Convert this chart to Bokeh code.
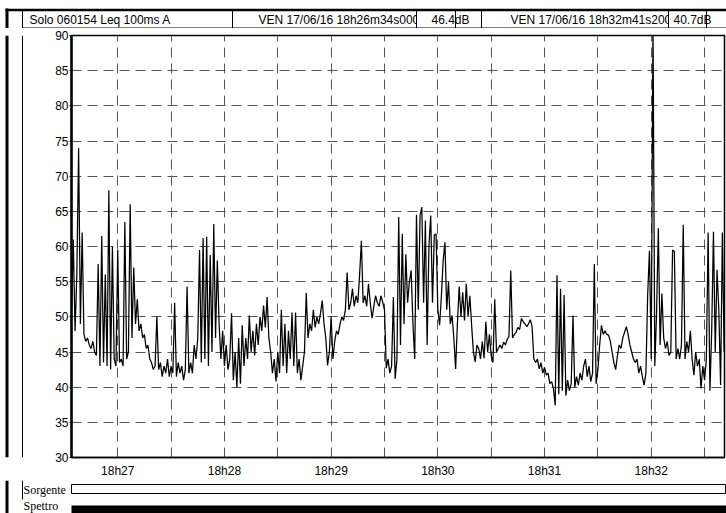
from bokeh.plotting import figure
from bokeh.layouts import column, row
from bokeh.models import Range1d, FixedTicker
from bokeh.core.properties import value
from bokeh.embed import file_html
from bokeh.resources import INLINE

# ---- data: Leq 100ms A, one reading per second from 18h26m34s ----
levels = [
    51, 61, 48, 56, 74, 49, 62, 47.5, 46.5, 47,
    46, 45.5, 46.5, 45, 44.5, 57.5, 43, 61.5, 43.5, 56,
    43, 68, 42.5, 60, 44, 43, 59.5, 43.5, 44, 43,
    63.5, 44, 45, 66, 47, 57, 49, 52.5, 48, 49,
    47, 47.5, 45.5, 46, 44, 43.5, 42.5, 43, 50, 42.5,
    43.5, 41.5, 43, 42, 44, 41.5, 43, 42, 52, 41.5,
    43.5, 42, 43, 41, 42.5, 54.3, 42, 43.5, 42, 46,
    44, 47, 59.5, 43.5, 61.2, 44, 61.4, 43, 58.8, 45,
    63.2, 47, 58, 49, 44, 48, 43, 46, 42.5, 44,
    50.5, 41, 45, 40, 47, 40.5, 48.8, 43, 47, 44,
    50.2, 45, 48, 44.5, 49, 46, 50, 48, 51.6, 48.5,
    52.8, 47, 45, 42, 44, 40.8, 45, 42, 51, 43,
    49, 42, 48, 44, 50.6, 43, 50.6, 42, 44, 41,
    43, 45, 53.4, 47, 49, 48, 51, 48.5, 50, 49,
    50.5, 52.3, 49, 47, 43.1, 45, 50, 44, 46.5, 48,
    47.5, 49, 50, 49.5, 51, 56.3, 51, 52, 54, 51.5,
    53, 52, 55.9, 60.8, 52, 53, 51.5, 54.7, 52, 49.8,
    51.5, 53, 52, 51.5, 53, 52.1, 51, 42.7, 44, 42,
    43, 52.8, 41.2, 44, 64.2, 46, 61.8, 49, 58.9, 52,
    55, 56.6, 49, 44, 64.5, 51, 64.4, 65.6, 52, 63.7,
    46, 60.1, 64.4, 52, 61.6, 61.8, 51, 48.8, 53, 58,
    60.6, 51, 55, 49, 50.2, 47, 42.6, 49, 54.3, 50,
    53.5, 49.5, 54.7, 50, 53, 48.8, 45, 43.6, 46, 45.5,
    44, 46.5, 44.1, 49.3, 45, 47.5, 44.5, 43.5, 52.5, 45,
    45.5, 46, 45.5, 46.4, 46, 46.8, 47.2, 56.6, 47, 47.5,
    47.8, 48.5, 48.2, 49.8, 49.3, 49, 48.6, 49, 49.6, 48.6,
    44, 43.5, 44, 42.6, 43.5, 42, 42.8, 41.7, 42, 40.5,
    40.8, 39.8, 37.4, 55.9, 39, 54, 39.5, 53.1, 38.8, 41,
    39.5, 40.5, 50.2, 40, 41.5, 40.3, 42, 41, 43, 44,
    41.5, 43, 40.8, 42, 57.5, 40.5, 42.5, 46, 48.8, 47.5,
    48, 47.5, 47.4, 46.5, 45, 43.5, 42.5, 44.5, 46, 45.5,
    47, 47.8, 48.6, 47.5, 46, 45, 44, 43.5, 44, 42,
    43, 41.5, 40.3, 42, 53.1, 59.4, 44, 92, 43, 50.5,
    62.6, 46, 53.3, 47, 45.5, 46.5, 44.5, 45, 59.5, 59.3,
    44, 45.5, 44, 46, 63.1, 44, 46.5, 45, 48, 44,
    41.7, 45, 43, 44, 39.8, 43, 41, 44, 62, 39.5,
    48, 62.1, 45, 56.7, 51, 40.3, 62, 45,
]
seconds = list(range(len(levels)))          # sample index = seconds after 18h26m34s
x_end = 367.2                               # 18h32m41s200
x_ticks = [26, 86, 146, 206, 266, 326]
x_tick_labels = ["18h27", "18h28", "18h29", "18h30", "18h31", "18h32"]
x_grid = [26, 56, 86, 116, 146, 176, 206, 236, 266, 296, 326, 356]
y_ticks = [30, 35, 40, 45, 50, 55, 60, 65, 70, 75, 80, 85, 90]
y_grid = [35, 40, 45, 50, 55, 60, 65, 70, 75, 80, 85]
header_texts = ["Solo 060154   Leq 100ms  A", "VEN 17/06/16 18h26m34s000", "46.4dB", "",
                "VEN 17/06/16 18h32m41s200", "40.7dB", ""]
row_labels = ["Sorgente", "Spettro"]

SANS = "Liberation Sans"
SERIF = "Liberation Serif"
W = 726
HH = 28     # header height
MH = 452    # main chart height
BH = 33     # bottom strip height

# ---- header strip (page y 0..28) ----
h = figure(width=W, height=HH, x_range=Range1d(0, W), y_range=Range1d(0, HH),
           x_axis_type=None, y_axis_type=None, min_border=0, output_backend="svg",
           toolbar_location=None)
h.grid.visible = False
h.outline_line_color = None
edges = [22, 232, 416, 455, 481, 668, 706, 727]
text_x = [29, 258, 431, None, 510, 673, None]
filled = [True, True, True, False, True, True, False]
for i in range(7):
    if filled[i]:
        h.quad(left=edges[i], right=edges[i + 1], top=18, bottom=0.5,
               fill_color="white", line_color=None)
    if text_x[i] is not None:
        h.text(x=[text_x[i]], y=[8.5], text=[header_texts[i]], text_font=value(SANS),
               text_font_size="12px", text_baseline="middle", text_align="left",
               text_color="black")
h.quad(left=edges[:-1], right=edges[1:], top=18, bottom=0.5,
       fill_color=None, line_color="black", line_width=1)
h.quad(left=5, right=W, top=19.7, bottom=17.3, fill_color="black", line_color=None)
h.quad(left=5, right=8, top=20, bottom=0, fill_color="black", line_color=None)

# ---- left strip (page x 0..23) ----
s = figure(width=23, height=MH, x_range=Range1d(0, 23), y_range=Range1d(0, MH),
           x_axis_type=None, y_axis_type=None, min_border=0, output_backend="svg",
           toolbar_location=None)
s.grid.visible = False
s.outline_line_color = None
s.quad(left=5, right=8, top=MH, bottom=0, fill_color="black", line_color=None)
s.quad(left=21.5, right=22.5, top=MH, bottom=0, fill_color="black", line_color=None)

# ---- main chart (page x 23..726, y 28..480) ----
p = figure(width=W - 23, height=MH, x_range=Range1d(0, x_end), y_range=Range1d(30, 90),
           min_border_left=48, min_border_right=2, min_border_top=7, min_border_bottom=21,
           output_backend="svg", toolbar_location=None)
p.background_fill_color = "white"
p.border_fill_color = "white"
p.outline_line_color = "black"
p.outline_line_width = 1.5

p.xaxis.ticker = FixedTicker(ticks=x_ticks)
p.xaxis.major_label_overrides = dict(zip(x_ticks, x_tick_labels))
p.xaxis.major_tick_out = 0
p.xaxis.major_tick_in = 0
p.xaxis.minor_tick_out = 0
p.xaxis.minor_tick_in = 0
p.xaxis.major_label_standoff = 6
p.xaxis.axis_line_width = 1.5

p.yaxis.ticker = FixedTicker(ticks=y_ticks)
p.yaxis.major_tick_out = 2
p.yaxis.major_tick_in = 0
p.yaxis.minor_tick_out = 0
p.yaxis.minor_tick_in = 0
p.yaxis.major_label_standoff = 1
p.yaxis.axis_line_width = 2.5

for ax in (p.xaxis, p.yaxis):
    ax.major_label_text_font = SANS
    ax.major_label_text_font_size = "12px"
    ax.major_label_text_color = "black"
    ax.axis_line_color = "black"
    ax.major_tick_line_color = "black"

p.xgrid.ticker = FixedTicker(ticks=x_grid)
p.ygrid.ticker = FixedTicker(ticks=y_grid)
for g in (p.xgrid, p.ygrid):
    g.grid_line_color = "#555555"
    g.grid_line_dash = "10 6"
    g.grid_line_width = 1

p.line(seconds, levels, line_color="black", line_width=1.25)

# ---- bottom strip (page y 480..513) ----
b = figure(width=W, height=BH, x_range=Range1d(0, W), y_range=Range1d(0, BH),
           x_axis_type=None, y_axis_type=None, min_border=0, output_backend="svg",
           toolbar_location=None)
b.grid.visible = False
b.outline_line_color = None
b.quad(left=5, right=8, top=BH, bottom=0, fill_color="black", line_color=None)
b.quad(left=21.5, right=22.5, top=BH, bottom=14, fill_color="black", line_color=None)
b.quad(left=71, right=725, top=29, bottom=20, fill_color="white", line_color="black",
       line_width=1)
b.quad(left=71, right=W, top=8, bottom=0, fill_color="black", line_color=None)
b.text(x=[23], y=[23.5], text=[row_labels[0]], text_font=value(SERIF), text_font_size="12px",
       text_baseline="middle", text_align="left", text_color="black")
b.text(x=[23], y=[0.5], text=[row_labels[1]], text_font=value(SERIF), text_font_size="12px",
       text_baseline="bottom", text_align="left", text_color="black")

layout = column(h, row(s, p), b)
open("out.html", "w").write(file_html(layout, INLINE))
